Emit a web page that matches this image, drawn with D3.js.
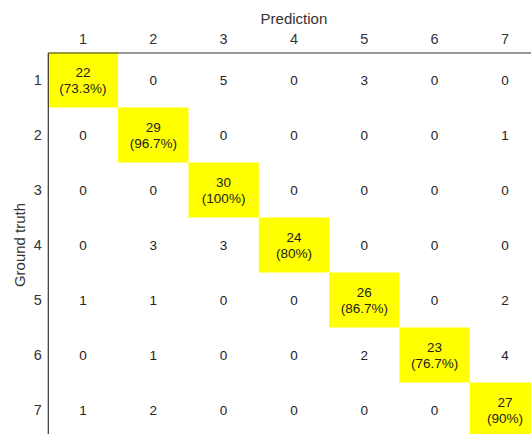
<!DOCTYPE html>
<html><head><meta charset="utf-8">
<script src="https://cdn.jsdelivr.net/npm/d3@7"></script>
<style>body{margin:0;background:#fff;overflow:hidden}svg{display:block}text{font-family:"Liberation Sans",Arial,sans-serif}</style>
</head><body>
<script>
const categories = ["1","2","3","4","5","6","7"];
const matrix = [
  [22,0,5,0,3,0,0],
  [0,29,0,0,0,0,1],
  [0,0,30,0,0,0,0],
  [0,3,3,24,0,0,0],
  [1,1,0,0,26,0,2],
  [0,1,0,0,2,23,4],
  [1,2,0,0,0,0,27]
];
const percentLabels = ["73.3%","96.7%","100%","80%","86.7%","76.7%","90%"];

const W = 531, H = 434;
const mLeft = 47.8, mTop = 52.5, cw = 70.33, ch = 55;
const svg = d3.select("body").append("svg").attr("width", W).attr("height", H);
const x = d3.scaleBand().domain(categories).range([mLeft, mLeft + cw*7]);
const y = d3.scaleBand().domain(categories).range([mTop, mTop + ch*7]);

const cells = [];
matrix.forEach((row,i)=>row.forEach((v,j)=>cells.push({r:categories[i], c:categories[j], v, diag:i===j, p:percentLabels[i]})));

svg.selectAll("rect.cell").data(cells.filter(d=>d.diag)).enter().append("rect")
  .attr("x", d=>x(d.c)).attr("y", d=>y(d.r)).attr("width", x.bandwidth()).attr("height", y.bandwidth())
  .attr("fill", "#ffff00");

const fs = 13.5;
const g = svg.selectAll("g.lab").data(cells).enter().append("g");
g.each(function(d){
  const cx = x(d.c) + x.bandwidth()/2, cy = y(d.r) + y.bandwidth()/2;
  const sel = d3.select(this);
  if (d.diag) {
    sel.append("text").attr("x", cx).attr("y", cy - 8).attr("text-anchor","middle").attr("dy","0.35em")
      .attr("font-size", fs).attr("fill","#222").text(d.v);
    sel.append("text").attr("x", cx).attr("y", cy + 8).attr("text-anchor","middle").attr("dy","0.35em")
      .attr("font-size", fs).attr("fill","#222").text("(" + d.p + ")");
  } else {
    sel.append("text").attr("x", cx).attr("y", cy).attr("text-anchor","middle").attr("dy","0.35em")
      .attr("font-size", fs).attr("fill","#222").text(d.v);
  }
});

const xAxis = d3.axisTop(x).tickSize(0).tickPadding(9);
const yAxis = d3.axisLeft(y).tickSize(0).tickPadding(6);
const gx = svg.append("g").attr("transform", `translate(0,${mTop})`).call(xAxis);
const gy = svg.append("g").attr("transform", `translate(${mLeft},0)`).call(yAxis);
[gx, gy].forEach(a=>{
  a.select(".domain").attr("stroke","#333").attr("stroke-width",1.2);
  a.selectAll("text").attr("font-size",14.5).attr("fill","#333").style("font-family",'"Liberation Sans",Arial,sans-serif');
});

svg.append("text").attr("x", mLeft + cw*3.5).attr("y", 24).attr("text-anchor","middle")
  .attr("font-size", 15).attr("fill","#333").text("Prediction");
svg.append("text").attr("transform", `translate(25,${mTop + ch*3.5}) rotate(-90)`).attr("text-anchor","middle")
  .attr("font-size", 15).attr("fill","#333").text("Ground truth");
</script>
</body></html>
